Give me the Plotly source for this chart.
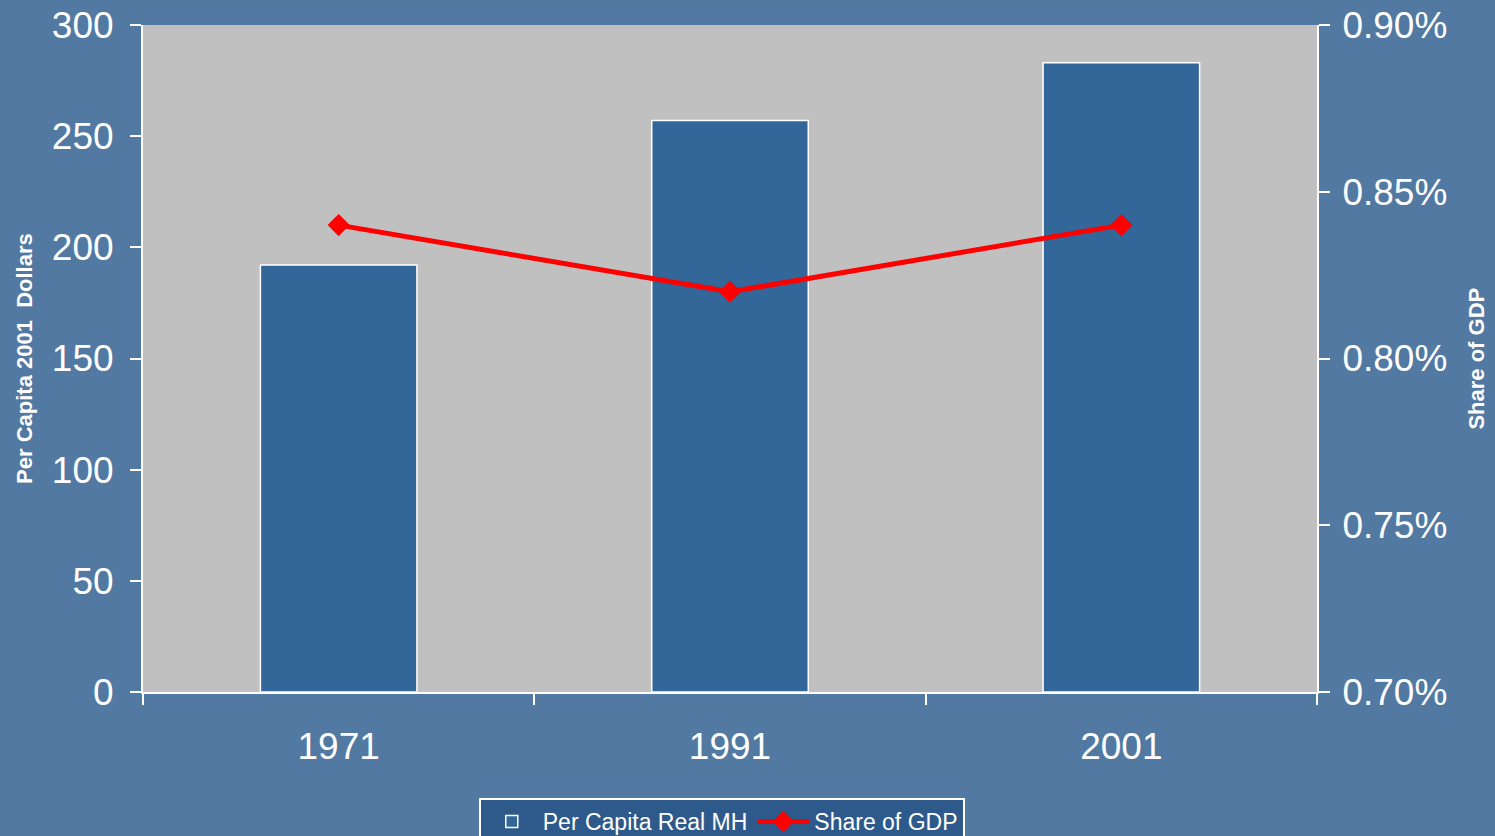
import plotly.graph_objects as go

years = ["1971", "1991", "2001"]
per_capita = [192, 257, 283]
share_gdp = [0.0084, 0.0082, 0.0084]

FONT = "Liberation Sans, Arial, sans-serif"

fig = go.Figure()
fig.add_trace(go.Bar(
    x=years, y=per_capita, name="Per Capita Real MH",
    marker=dict(color="#336699", line=dict(color="white", width=1.5)),
    width=0.4,
))
fig.add_trace(go.Scatter(
    x=years, y=share_gdp, name="Share of GDP", yaxis="y2",
    mode="lines+markers",
    line=dict(color="#ff0000", width=5),
    marker=dict(symbol="diamond", size=17, color="#ff0000"),
))

fig.update_layout(
    width=1495, height=836,
    margin=dict(l=143, r=178, t=25, b=144, autoexpand=False),
    paper_bgcolor="#5279a2",
    plot_bgcolor="#c0c0c0",
    font=dict(family=FONT, color="white", size=37),
    showlegend=True,
    legend=dict(
        orientation="h", x=0.286, y=-0.159, xanchor="left", yanchor="top",
        bgcolor="#2d5a8a", bordercolor="white", borderwidth=2,
        font=dict(size=23, color="white", family=FONT),
        itemwidth=52, tracegroupgap=0,
    ),
    xaxis=dict(
        type="category", range=[-0.5, 2.5], tickson="boundaries",
        ticks="outside", ticklen=11, tickwidth=1.5, tickcolor="white",
        showline=True, linecolor="white", linewidth=2, automargin=False,
        ticklabelstandoff=21,
        showgrid=False, tickfont=dict(size=37, color="white"),
    ),
    yaxis=dict(
        range=[0, 300], tickvals=[0, 50, 100, 150, 200, 250, 300],
        ticks="outside", ticklen=11, tickwidth=1.5, tickcolor="white",
        showline=True, linecolor="white", linewidth=2, automargin=False,
        ticklabelstandoff=9,
        showgrid=False, zeroline=False, tickfont=dict(size=37, color="white"),
    ),
    yaxis2=dict(
        overlaying="y", side="right", range=[0.007, 0.009],
        tickvals=[0.007, 0.0075, 0.008, 0.0085, 0.009], tickformat=".2%",
        ticks="outside", ticklen=11, tickwidth=1.5, tickcolor="white",
        showline=True, linecolor="white", linewidth=2, automargin=False,
        ticklabelstandoff=5,
        showgrid=False, zeroline=False, tickfont=dict(size=37, color="white"),
    ),
    annotations=[
        dict(text="<b>Per Capita 2001  Dollars</b>", textangle=-90,
             xref="paper", yref="paper", x=-0.101, y=0.5, xanchor="center", yanchor="middle",
             showarrow=False, font=dict(size=22, color="white", family=FONT)),
        dict(text="<b>Share of GDP</b>", textangle=-90,
             xref="paper", yref="paper", x=1.1355, y=0.5, xanchor="center", yanchor="middle",
             showarrow=False, font=dict(size=22, color="white", family=FONT)),
    ],
)

fig.write_html(
    "out.html",
    config={"displayModeBar": False},
    post_script="document.body.style.margin='0';document.body.style.overflow='hidden';",
)
